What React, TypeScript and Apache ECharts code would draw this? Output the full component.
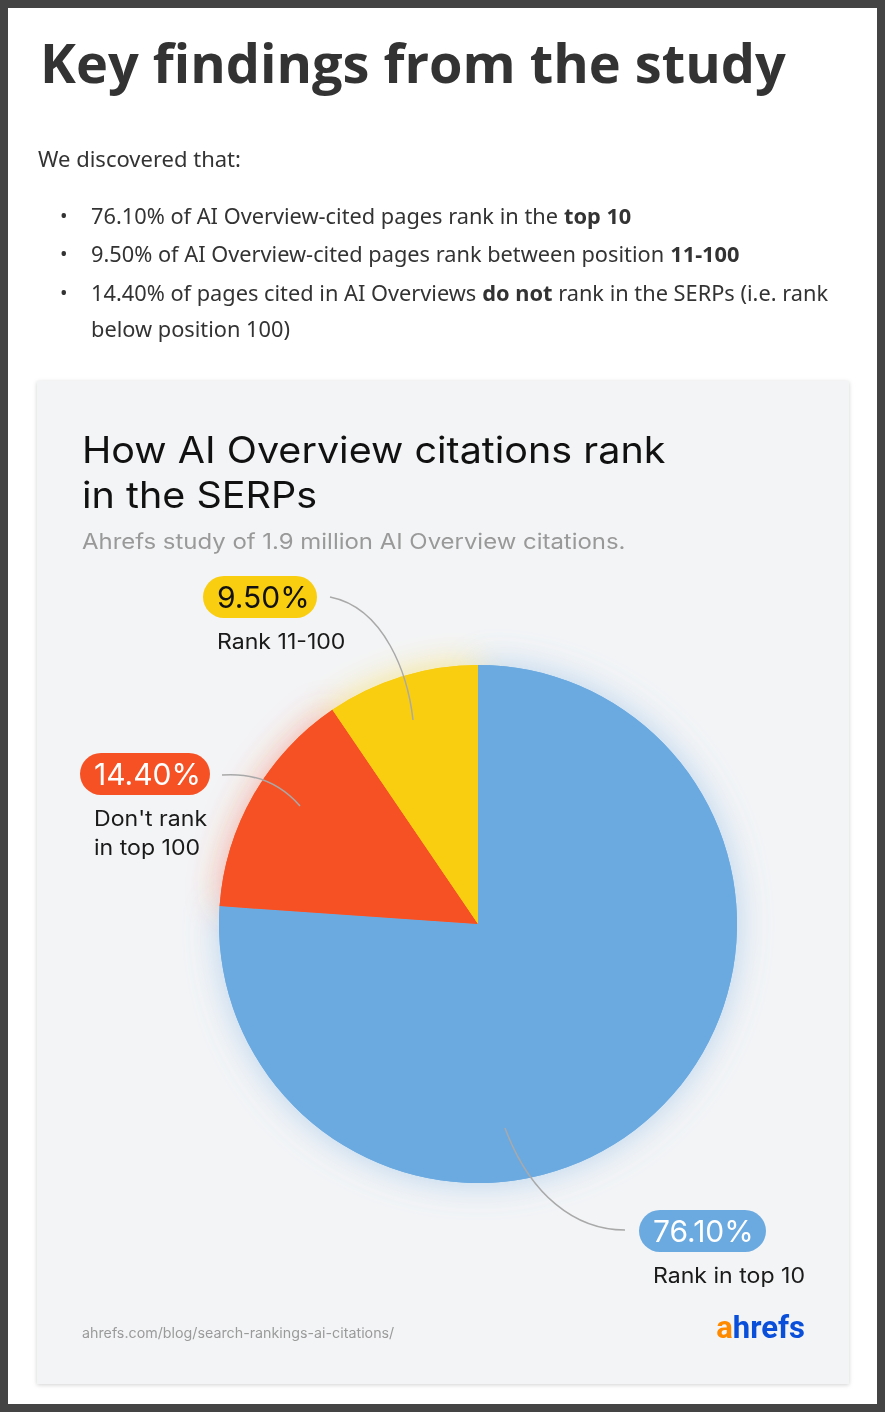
import React, { useEffect, useRef } from "react";
import * as echarts from "echarts";

// ---------- data ----------
const categories = ["Rank in top 10", "Don't rank in top 100", "Rank 11-100"];
const nameLines = [["Rank in top 10"], ["Don't rank", "in top 100"], ["Rank 11-100"]];
const shares = [76.1, 14.4, 9.5];
const sliceColors = ["#6BAAE1", "#F65125", "#F9CD10"];
const pillTextColors = ["#ffffff", "#ffffff", "#111111"];

const pageTitle = "Key findings from the study";
const intro = "We discovered that:";
const bullets: [string, boolean][][] = [
  [["76.10% of AI Overview-cited pages rank in the ", false], ["top 10", true]],
  [["9.50% of AI Overview-cited pages rank between position ", false], ["11-100", true]],
  [["14.40% of pages cited in AI Overviews ", false], ["do not", true], [" rank in the SERPs (i.e. rank", false]],
  [["below position 100)", false]],
];
const chartTitle = ["How AI Overview citations rank", "in the SERPs"];
const chartSubtitle = "Ahrefs study of 1.9 million AI Overview citations.";
const sourceUrl = "ahrefs.com/blog/search-rankings-ai-citations/";

const W = 885;
const H = 1412;
const BODY_FONT = "'Noto Sans', 'Open Sans', sans-serif";
const CHART_FONT = "Inter, 'Noto Sans', sans-serif";

export default function App() {
  const ref = useRef<HTMLDivElement>(null);

  useEffect(() => {
    if (!ref.current) return;
    const chart = echarts.init(ref.current, undefined, { renderer: "svg", width: W, height: H });

    const center = [478, 924];
    const radius = 259;
    // pill boxes (left, top, width) for each slice's label
    const pillBoxes = [
      [639, 1210, 127],
      [80, 753, 130],
      [203, 576, 114],
    ];
    const pillH = 42;

    const data = categories.map((c, i) => ({
      name: c,
      value: shares[i],
      itemStyle: { color: sliceColors[i] },
    }));
    const shadowData = categories.map((c, i) => ({
      name: c,
      value: shares[i],
      itemStyle: {
        color: sliceColors[i],
        shadowBlur: 34,
        shadowColor: echarts.color.modifyAlpha(sliceColors[i], 0.45),
      },
    }));

    const bulletY = [215, 253, 292, 328];
    const graphic: any[] = [
      { type: "rect", z: -10, shape: { x: 0, y: 0, width: W, height: H }, style: { fill: "#444444" } },
      { type: "rect", z: -9, shape: { x: 8, y: 8, width: W - 16, height: H - 16 }, style: { fill: "#ffffff" } },
      {
        type: "rect",
        z: -8,
        shape: { x: 37, y: 381, width: 812, height: 1003 },
        style: { fill: "#F3F4F6", shadowBlur: 4, shadowOffsetY: 1, shadowColor: "rgba(0,0,0,0.18)" },
      },
      {
        type: "text",
        x: 40,
        y: 63,
        scaleX: 1.021,
        style: {
          text: pageTitle,
          fontFamily: "'Open Sans', Roboto, sans-serif",
          fontWeight: "bold",
          fontSize: 53,
          fill: "#333333",
          verticalAlign: "middle",
        },
      },
      {
        type: "text",
        x: 38,
        y: 158,
        style: { text: intro, fontFamily: BODY_FONT, fontSize: 22, fill: "#333333", verticalAlign: "middle" },
      },
    ];
    bullets.forEach((segs, i) => {
      if (i < 3) {
        graphic.push({
          type: "text",
          x: 60,
          y: bulletY[i],
          style: { text: "•", fontFamily: BODY_FONT, fontSize: 20, fill: "#333333", verticalAlign: "middle" },
        });
      }
      graphic.push({
        type: "text",
        x: 91,
        y: bulletY[i],
        scaleX: 0.99,
        style: {
          text: segs.map(([t, b]) => `{${b ? "b" : "r"}|${t}}`).join(""),
          verticalAlign: "middle",
          rich: {
            r: { fontFamily: BODY_FONT, fontSize: 22, fill: "#333333" },
            b: { fontFamily: BODY_FONT, fontSize: 22, fontWeight: "bold", fill: "#333333" },
          },
        },
      });
    });
    chartTitle.forEach((t, i) => {
      graphic.push({
        type: "text",
        x: 82,
        y: 449 + i * 45,
        scaleX: 1.068,
        style: { text: t, fontFamily: CHART_FONT, fontSize: 37, fill: "#111111", verticalAlign: "middle" },
      });
    });
    graphic.push({
      type: "text",
      x: 82,
      y: 541,
      scaleX: 1.14,
      style: { text: chartSubtitle, fontFamily: CHART_FONT, fontSize: 21, fill: "#999999", verticalAlign: "middle" },
    });
    graphic.push({
      type: "text",
      x: 82,
      y: 1333,
      scaleX: 1.02,
      style: { text: sourceUrl, fontFamily: CHART_FONT, fontSize: 14, fill: "#9a9a9a", verticalAlign: "middle" },
    });
    graphic.push({
      type: "text",
      x: 805,
      y: 1327,
      style: {
        text: "{a|a}{h|hrefs}",
        align: "right",
        verticalAlign: "middle",
        rich: {
          a: { fontFamily: "Roboto, sans-serif", fontWeight: "bold", fontSize: 31, fill: "#FF8A00" },
          h: { fontFamily: "Roboto, sans-serif", fontWeight: "bold", fontSize: 31, fill: "#0A4FD9" },
        },
      },
    });

    // slice labels: pill with percentage + category name lines
    categories.forEach((_, i) => {
      const [lx, ly, pw] = pillBoxes[i];
      graphic.push({
        type: "rect",
        z: 60,
        shape: { x: lx, y: ly, width: pw, height: pillH, r: pillH / 2 },
        style: { fill: sliceColors[i] },
      });
      graphic.push({
        type: "text",
        z: 61,
        x: lx + 14,
        y: ly + pillH / 2,
        style: {
          text: `${shares[i].toFixed(2)}%`,
          fontFamily: CHART_FONT,
          fontSize: 30,
          fill: pillTextColors[i],
          verticalAlign: "middle",
        },
      });
      nameLines[i].forEach((t, j) => {
        graphic.push({
          type: "text",
          z: 61,
          x: lx + 14,
          y: ly + pillH + 23 + j * 29,
          scaleX: 1.1,
          style: { text: t, fontFamily: CHART_FONT, fontSize: 21, fill: "#1a1a1a", verticalAlign: "middle" },
        });
      });
    });

    // leader lines
    const lineStyle = { stroke: "#a9a9a9", lineWidth: 1.5, fill: "none" };
    graphic.push(
      { type: "bezierCurve", z: 50, shape: { x1: 330, y1: 597, cpx1: 385, cpy1: 608, cpx2: 408, cpy2: 675, x2: 413, y2: 720 }, style: lineStyle },
      { type: "bezierCurve", z: 50, shape: { x1: 222, y1: 775, cpx1: 262, cpy1: 772, cpx2: 286, cpy2: 790, x2: 300, y2: 806 }, style: lineStyle },
      { type: "bezierCurve", z: 50, shape: { x1: 505, y1: 1128, cpx1: 530, cpy1: 1195, cpx2: 575, cpy2: 1230, x2: 625, y2: 1230 }, style: lineStyle }
    );

    chart.setOption({
      animation: false,
      graphic,
      series: [
        {
          type: "pie",
          z: 1,
          silent: true,
          center,
          radius,
          startAngle: 90,
          clockwise: true,
          label: { show: false },
          labelLine: { show: false },
          data: shadowData,
        },
        {
          type: "pie",
          z: 2,
          center,
          radius,
          startAngle: 90,
          clockwise: true,
          data,
          label: { show: false },
          labelLine: { show: false },
        },
      ],
    });

    return () => chart.dispose();
  }, []);

  return <div ref={ref} style={{ position: "fixed", left: 0, top: 0, width: W, height: H }} />;
}
